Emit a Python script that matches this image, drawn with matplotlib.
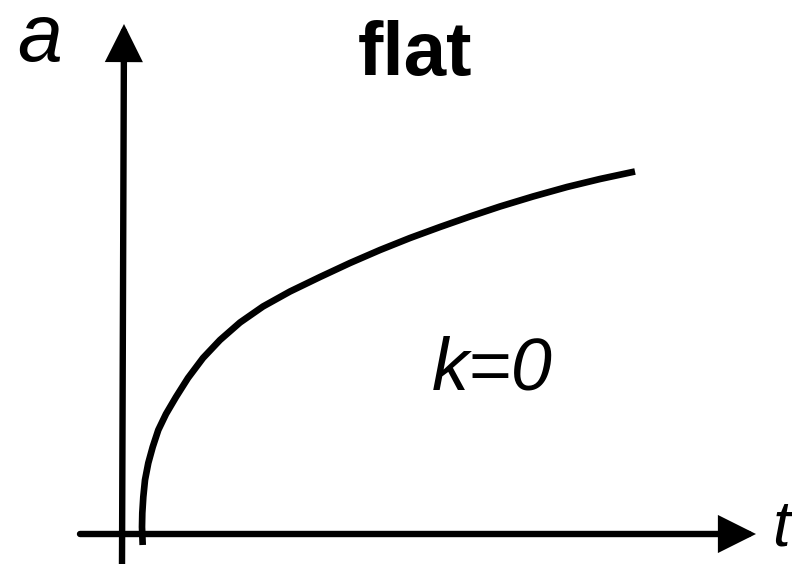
import matplotlib
matplotlib.use("Agg")
import matplotlib.pyplot as plt

plt.rcParams['font.family'] = ['Liberation Sans', 'DejaVu Sans']

# curve a(t) (arbitrary units, origin at axes crossing)
t_vals = [0.197, 0.19, 0.193, 0.203, 0.22, 0.253, 0.297, 0.353, 0.43, 0.53,
          0.65, 0.80, 0.97, 1.17, 1.40, 1.67, 1.97, 2.27, 2.57, 2.87,
          3.17, 3.47, 3.77, 4.10, 4.44, 4.77, 5.12]
a_vals = [-0.11, 0.07, 0.21, 0.37, 0.54, 0.71, 0.87, 1.04, 1.20, 1.37,
          1.56, 1.76, 1.94, 2.115, 2.275, 2.425, 2.57, 2.71, 2.84, 2.96,
          3.07, 3.175, 3.275, 3.375, 3.47, 3.55, 3.625]

title = "flat"
curve_label = "k=0"
x_label = "t"
y_label = "a"

fig = plt.figure(figsize=(7.92, 5.64), dpi=100)
ax = fig.add_axes([0, 0, 1, 1])
ax.set_xlim(-1.23, 6.69)
ax.set_ylim(-0.30, 5.34)
ax.axis('off')

ax.plot(t_vals, a_vals, color='black', lw=4.8, solid_capstyle='butt',
        solid_joinstyle='round')

arrow = dict(arrowstyle='-|>,head_length=1.0,head_width=0.5', lw=4.6, color='black',
             shrinkA=0, shrinkB=0, mutation_scale=20, joinstyle='miter')
ax.annotate('', xy=(0.01, 5.10), xytext=(-0.01, -0.30), arrowprops=arrow)
ax.annotate('', xy=(6.33, 0.0), xytext=(-0.43, 0.0), arrowprops=arrow)

ax.text(-0.83, 4.94, y_label, fontsize=58, style='italic', ha='center', va='center')
ax.text(6.58, 0.06, x_label, fontsize=46, style='italic', ha='center', va='center')
ax.text(2.92, 4.79, title, fontsize=55, weight='bold', ha='center', va='center')
ax.text(3.69, 1.64, curve_label, fontsize=53, style='italic', ha='center', va='center')

fig.savefig('out.png', dpi=100)
